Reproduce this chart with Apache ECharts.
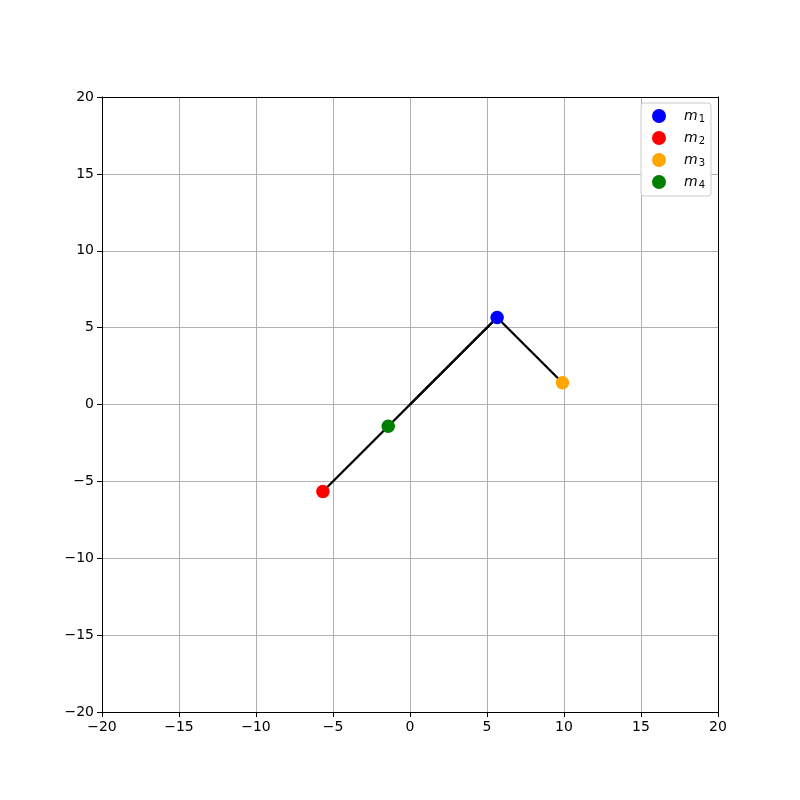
<!DOCTYPE html>
<html>
<head>
<meta charset="utf-8">
<script src="https://cdn.jsdelivr.net/npm/echarts@6/dist/echarts.min.js"></script>
<style>html,body{margin:0;padding:0;background:#fff}#c{width:800px;height:800px}</style>
</head>
<body>
<div id="c"></div>
<script>
// Data
var names = ['m1', 'm2', 'm3', 'm4'];
var colors = ['blue', 'red', 'orange', 'green'];
var xs = [5.657, -5.657, 9.9, -1.414];
var ys = [5.657, -5.657, 1.414, -1.414];
var origin = [0, 0];
// rods: pairs of point indices (-1 = origin)
var rods = [[1, 0], [-1, 0], [0, 2]];
var ticks = [-20, -15, -10, -5, 0, 5, 10, 15, 20];

function pt(i) { return i < 0 ? origin : [xs[i], ys[i]]; }

var series = [];
rods.forEach(function (r) {
  series.push({
    type: 'line', data: [pt(r[0]), pt(r[1])], symbol: 'none', silent: true,
    lineStyle: { color: '#000', width: 2.3 }, z: 2
  });
});
names.forEach(function (n, i) {
  series.push({
    name: n, type: 'scatter', data: [[xs[i], ys[i]]], symbol: 'circle', symbolSize: 13.5,
    itemStyle: { color: colors[i], opacity: 1 }, z: 3
  });
});

function fmt(v) { return String(v).replace('-', '\u2212'); }

var axisCommon = {
  type: 'value', min: ticks[0], max: ticks[ticks.length - 1], interval: 5,
  axisLine: { show: true, onZero: false, lineStyle: { color: '#000', width: 1 } },
  axisTick: { show: true, length: 5, lineStyle: { color: '#000', width: 1 } },
  splitLine: { show: true, lineStyle: { color: '#b0b0b0', width: 1 } },
  axisLabel: { color: '#000', fontSize: 14, fontFamily: 'DejaVu Sans', formatter: fmt, margin: 8 }
};
var frameAxis = {
  type: 'value', min: ticks[0], max: ticks[ticks.length - 1], interval: 5,
  axisLine: { show: true, onZero: false, lineStyle: { color: '#000', width: 1 } },
  axisTick: { show: false }, splitLine: { show: false }, axisLabel: { show: false }
};

var chart = echarts.init(document.getElementById('c'), null, { renderer: 'canvas' });
chart.setOption({
  animation: false,
  backgroundColor: '#fff',
  grid: { left: 102, right: 82, top: 97, bottom: 88 },
  xAxis: [
    Object.assign({}, axisCommon, { position: 'bottom' }),
    Object.assign({}, frameAxis, { position: 'top' })
  ],
  yAxis: [
    Object.assign({}, axisCommon, { position: 'left' }),
    Object.assign({}, frameAxis, { position: 'right' })
  ],
  legend: {
    data: names, orient: 'vertical', right: 89, top: 103, icon: 'circle',
    itemWidth: 14, itemHeight: 14, itemGap: 7, itemStyle: { opacity: 1 },
    backgroundColor: '#fff', borderColor: '#cccccc', borderWidth: 1, borderRadius: 3,
    padding: [6, 6, 6, 11],
    formatter: function (n) { return '{m|m}{s|' + n.slice(1) + '}'; },
    textStyle: {
      color: '#000', padding: [0, 0, 0, 13],
      rich: {
        m: { fontFamily: 'DejaVu Sans', fontStyle: 'italic', fontSize: 14, color: '#000' },
        s: { fontFamily: 'DejaVu Sans', fontSize: 10, color: '#000', verticalAlign: 'bottom', padding: [6, 0, 0, 1] }
      }
    }
  },
  series: series
});
</script>
</body>
</html>
